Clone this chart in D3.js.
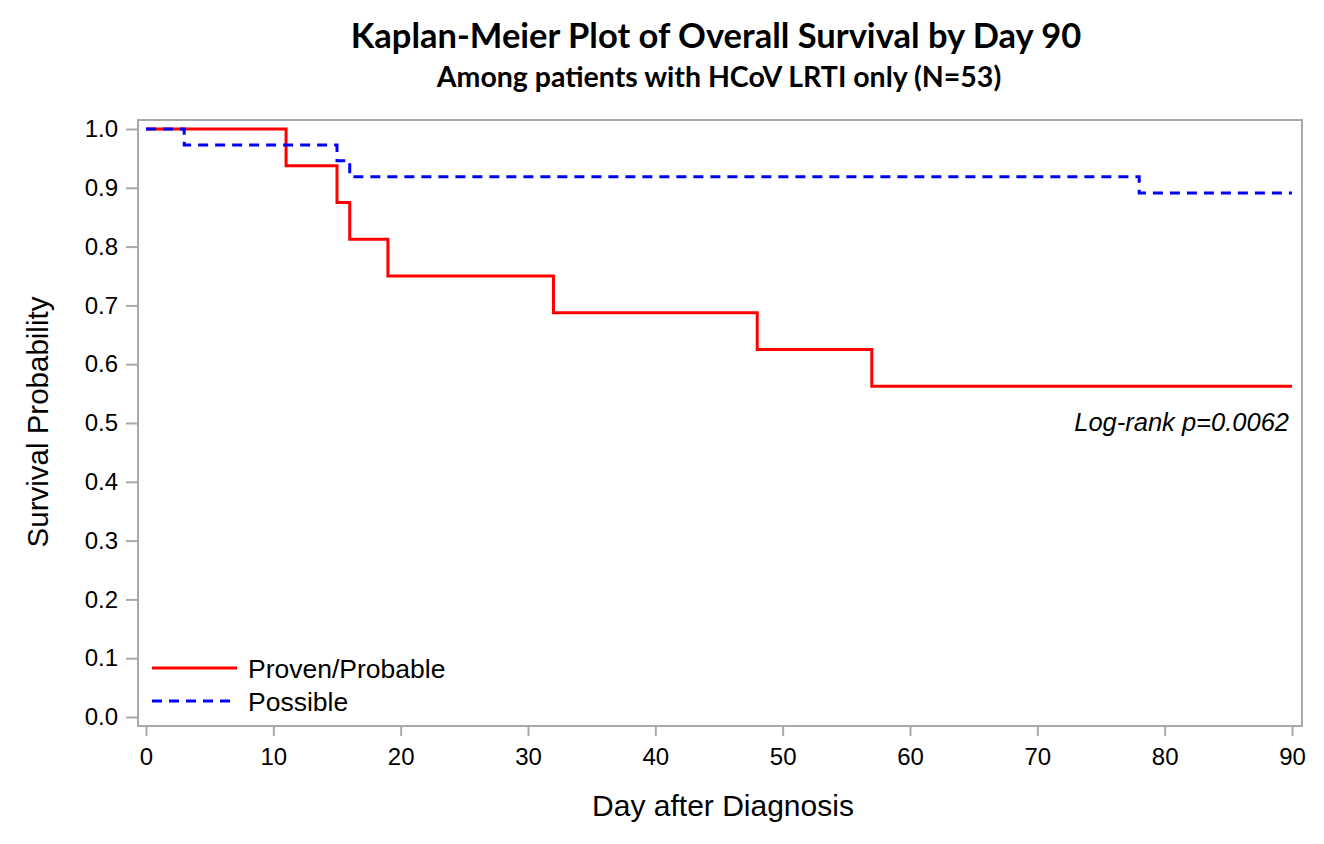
<!DOCTYPE html>
<html>
<head>
<meta charset="utf-8">
<script src="https://cdn.jsdelivr.net/npm/d3@7"></script>
<style>
body { margin: 0; background: #fff; }
svg text { font-family: Arial, "Liberation Sans", sans-serif; }
</style>
</head>
<body>
<div id="chart"></div>
<script>
// step data (day, survival)
var provenDays = [0, 11, 15, 16, 19, 32, 48, 57, 90];
var provenSurv = [1.0, 0.9375, 0.875, 0.8125, 0.75, 0.6875, 0.625, 0.5625, 0.5625];
var possibleDays = [0, 3, 15, 16, 78, 90];
var possibleSurv = [1.0, 0.973, 0.946, 0.919, 0.891, 0.891];
var xTicks = [0, 10, 20, 30, 40, 50, 60, 70, 80, 90];
var yTicks = [0, 0.1, 0.2, 0.3, 0.4, 0.5, 0.6, 0.7, 0.8, 0.9, 1.0];

var W = 1324, H = 844;
var FONT = "Arial, 'Liberation Sans', sans-serif";
var svg = d3.select("#chart").append("svg")
    .attr("width", W).attr("height", H);

var x = d3.scaleLinear().domain([0, 90]).range([146, 1292]);
var y = d3.scaleLinear().domain([0, 1]).range([717, 129]);

// frame
svg.append("rect")
    .attr("x", 138).attr("y", 120)
    .attr("width", 1164).attr("height", 606)
    .attr("fill", "none").attr("stroke", "#a7a9ac").attr("stroke-width", 2);

var yAxis = svg.append("g")
    .attr("transform", "translate(138,0)")
    .call(d3.axisLeft(y).tickValues(yTicks).tickFormat(d3.format(".1f")).tickSizeOuter(0).tickSize(12).tickPadding(8));
var xAxis = svg.append("g")
    .attr("transform", "translate(0,726)")
    .call(d3.axisBottom(x).tickValues(xTicks).tickSizeOuter(0).tickSize(10).tickPadding(12));
[yAxis, xAxis].forEach(function(a) {
    a.attr("font-family", null);
    a.select(".domain").remove();
    a.selectAll("line").attr("stroke", "#a7a9ac").attr("stroke-width", 2);
    a.selectAll("text").attr("font-size", 24).attr("fill", "#000")
        .style("font-family", FONT);
});

function toPts(days, surv) {
    return days.map(function(d, i) { return [d, surv[i]]; });
}
var line = d3.line()
    .x(function(d) { return x(d[0]); })
    .y(function(d) { return y(d[1]); })
    .curve(d3.curveStepAfter);

// red first, blue dashes drawn over it
svg.append("path")
    .datum(toPts(provenDays, provenSurv))
    .attr("d", line)
    .attr("fill", "none").attr("stroke", "#ff0000")
    .attr("stroke-width", 3);
svg.append("path")
    .datum(toPts(possibleDays, possibleSurv))
    .attr("d", line)
    .attr("fill", "none").attr("stroke", "#0000ff")
    .attr("stroke-width", 3).attr("stroke-dasharray", "10,7");

// legend
svg.append("line").attr("x1", 152).attr("x2", 237).attr("y1", 668).attr("y2", 668)
    .attr("stroke", "#ff0000").attr("stroke-width", 3);
svg.append("line").attr("x1", 152).attr("x2", 237).attr("y1", 701).attr("y2", 701)
    .attr("stroke", "#0000ff").attr("stroke-width", 3).attr("stroke-dasharray", "10,7");
svg.append("text").attr("x", 248).attr("y", 678).attr("font-size", 26.5).style("font-family", FONT).text("Proven/Probable");
svg.append("text").attr("x", 248).attr("y", 711).attr("font-size", 26.5).style("font-family", FONT).text("Possible");

svg.append("text").attr("x", 1289).attr("y", 431).attr("font-size", 25.5).style("font-family", FONT)
    .attr("text-anchor", "end").attr("font-style", "italic").text("Log-rank p=0.0062");

// axis labels
svg.append("text").attr("x", 723).attr("y", 816).attr("font-size", 30).style("font-family", FONT)
    .attr("text-anchor", "middle").text("Day after Diagnosis");
svg.append("text").attr("transform", "translate(48,422) rotate(-90)").style("font-family", FONT)
    .attr("font-size", 29.5).attr("text-anchor", "middle").text("Survival Probability");

// titles
svg.append("text").attr("x", 716).attr("y", 48).attr("font-size", 34.5)
    .attr("text-anchor", "middle").attr("font-weight", "bold")
    .style("font-family", "Lato, 'Open Sans', sans-serif")
    .text("Kaplan-Meier Plot of Overall Survival by Day 90");
svg.append("text").attr("x", 719).attr("y", 87).attr("font-size", 28.5)
    .attr("text-anchor", "middle").attr("font-weight", "bold")
    .style("font-family", "Lato, 'Open Sans', sans-serif")
    .text("Among patients with HCoV LRTI only (N=53)");
</script>
</body>
</html>
